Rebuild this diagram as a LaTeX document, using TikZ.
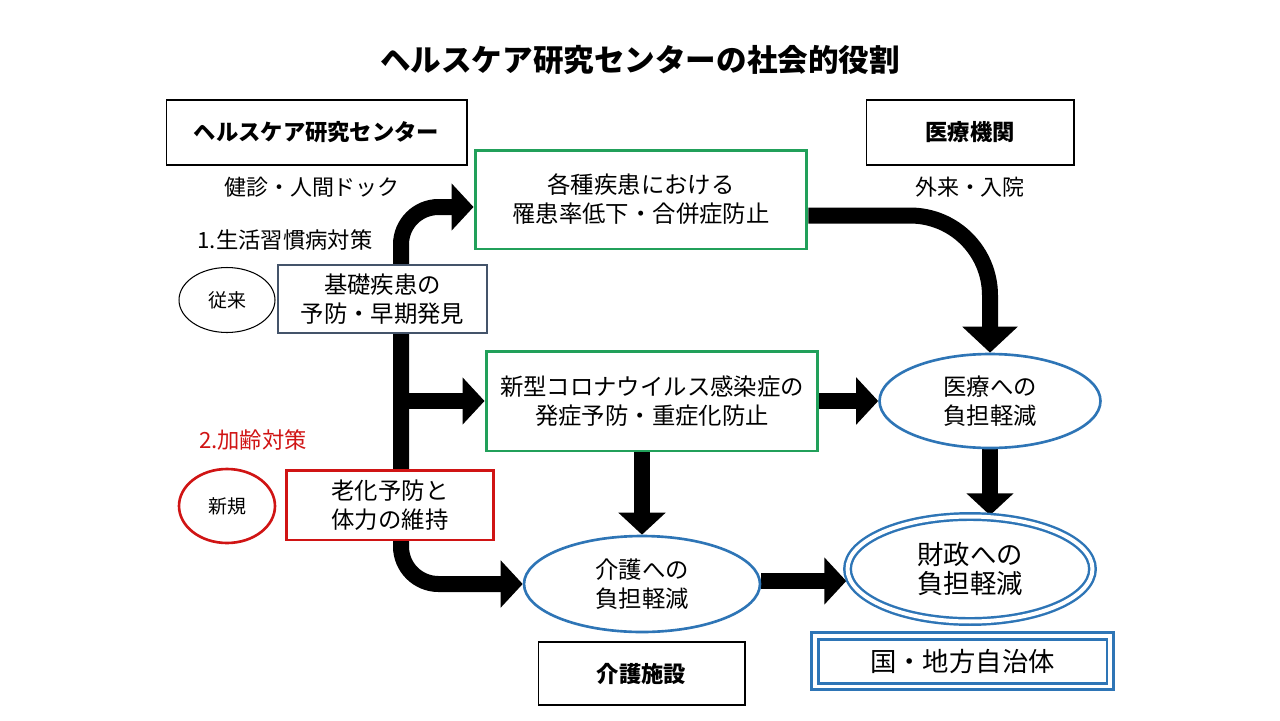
\documentclass[tikz,border=0pt]{standalone}
\usepackage{fontspec}
\setmainfont{Noto Sans CJK JP}
\usetikzlibrary{arrows.meta,positioning,shapes,calc,backgrounds}
\definecolor{boxgreen}{HTML}{21A05A}
\definecolor{ellblue}{HTML}{2E75B6}
\definecolor{alertred}{HTML}{D01414}
\definecolor{slateline}{HTML}{44546A}
\tikzset{
  txt/.style = {align=center, inner sep=0pt, font=\fontsize{13.3}{16.5}\selectfont},
  boldtxt/.style = {txt, font=\bfseries\fontsize{12.7}{15}\selectfont},
  plainbox/.style = {boldtxt, rectangle, draw, line width=0.6pt, fill=white},
  slatebox/.style = {txt, rectangle, draw=slateline, line width=0.6pt, fill=white},
  greenbox/.style = {txt, rectangle, draw=boxgreen, line width=1.7pt, fill=white},
  redbox/.style = {txt, rectangle, draw=alertred, line width=1.7pt, fill=white},
  blueell/.style = {txt, ellipse, draw=ellblue, line width=1.5pt, fill=white},
  tagell/.style = {txt, ellipse, draw, line width=0.6pt, font=\fontsize{10.8}{13}\selectfont},
  bigarrow/.style = {line width=0.32cm, -{Triangle[width=0.92cm, length=0.44cm]}},
}

\begin{document}
\begin{tikzpicture}[x=0.02cm, y=-0.02cm]
\useasboundingbox (0,0) rectangle (1280,720);

\node[txt, font=\bfseries\fontsize{17.4}{20}\selectfont] (title) at (640,60) {ヘルスケア研究センターの社会的役割};

% left column
\node[plainbox, minimum width=6.02cm, minimum height=1.3cm] (center) at (316.5,132.5) {ヘルスケア研究センター};
\node[txt, font=\fontsize{12.5}{15}\selectfont] (kenshin) at (312,187) {健診・人間ドック};
\node[txt, font=\fontsize{12.7}{15}\selectfont] (lifestyle) at (285,240) {1.生活習慣病対策};
\node[tagell, minimum width=1.92cm, minimum height=1.3cm] (juurai) at (227,300) {従来};
\node[slatebox, minimum width=4.18cm, minimum height=1.36cm] (kiso) at (382.5,299) {基礎疾患の\\予防・早期発見};
\node[txt, text=alertred, font=\fontsize{12.7}{15}\selectfont] (karei) at (253,440) {2.加齢対策};
\node[tagell, draw=alertred, line width=1.5pt, minimum width=1.92cm, minimum height=1.48cm] (shinki) at (227,506) {新規};
\node[redbox, minimum width=4.16cm, minimum height=1.4cm] (roka) at (390,505) {老化予防と\\体力の維持};

% middle column
\node[greenbox, minimum width=6.64cm, minimum height=1.98cm] (kakushu) at (641,199.5) {各種疾患における\\罹患率低下・合併症防止};
\node[greenbox, minimum width=6.64cm, minimum height=2cm] (corona) at (652,401) {新型コロナウイルス感染症の\\発症予防・重症化防止};
\node[blueell, minimum width=4.72cm, minimum height=1.92cm] (kaigo) at (642,584) {介護への\\負担軽減};
\node[plainbox, minimum width=4.14cm, minimum height=1.26cm] (shisetsu) at (641.5,673.5) {介護施設};

% right column
\node[plainbox, minimum width=4.16cm, minimum height=1.3cm] (kikan) at (970,132.5) {医療機関};
\node[txt, font=\fontsize{12.5}{15}\selectfont] (gairai) at (970,187) {外来・入院};
\node[blueell, minimum width=4.42cm, minimum height=1.88cm] (iryo) at (990,401) {医療への\\負担軽減};
\node[blueell, double, double distance=0.08cm, line width=1.4pt, font=\fontsize{15}{16.5}\selectfont,
      minimum width=4.9cm, minimum height=2.1cm] (zaisei) at (970,569) {財政への\\負担軽減};
\node[txt, rectangle, draw=ellblue, fill=white, double, double distance=0.07cm, line width=1.7pt,
      font=\fontsize{15}{17}\selectfont, minimum width=5.91cm, minimum height=1.01cm] (kuni) at (962.5,661) {国・地方自治体};

% thick arrows behind the boxes
\begin{scope}[on background layer]
\coordinate (trunk) at (401,401);
\draw[bigarrow, rounded corners=0.75cm] (trunk) |- ($(kakushu.west)+(0,7.5)$);
\draw[bigarrow] (trunk) -- (corona.west);
\draw[bigarrow, rounded corners=0.75cm] (trunk) |- (kaigo.west);
\draw[bigarrow, rounded corners=1.6cm, -{Triangle[width=1.08cm, length=0.52cm]}] ($(kakushu.east)+(0,16)$) -| (iryo.north);
\draw[bigarrow] (corona.east) -- (corona.east -| iryo.west);
\draw[bigarrow] (corona.south -| kaigo.north) -- (kaigo.north);
\draw[bigarrow] (iryo.south) -- (iryo.south |- zaisei.north);
\draw[bigarrow] ($(kaigo.east)+(0,-3)$) -- ($(kaigo.east -| zaisei.west)+(0,-3)$);
\end{scope}
\end{tikzpicture}
\end{document}
